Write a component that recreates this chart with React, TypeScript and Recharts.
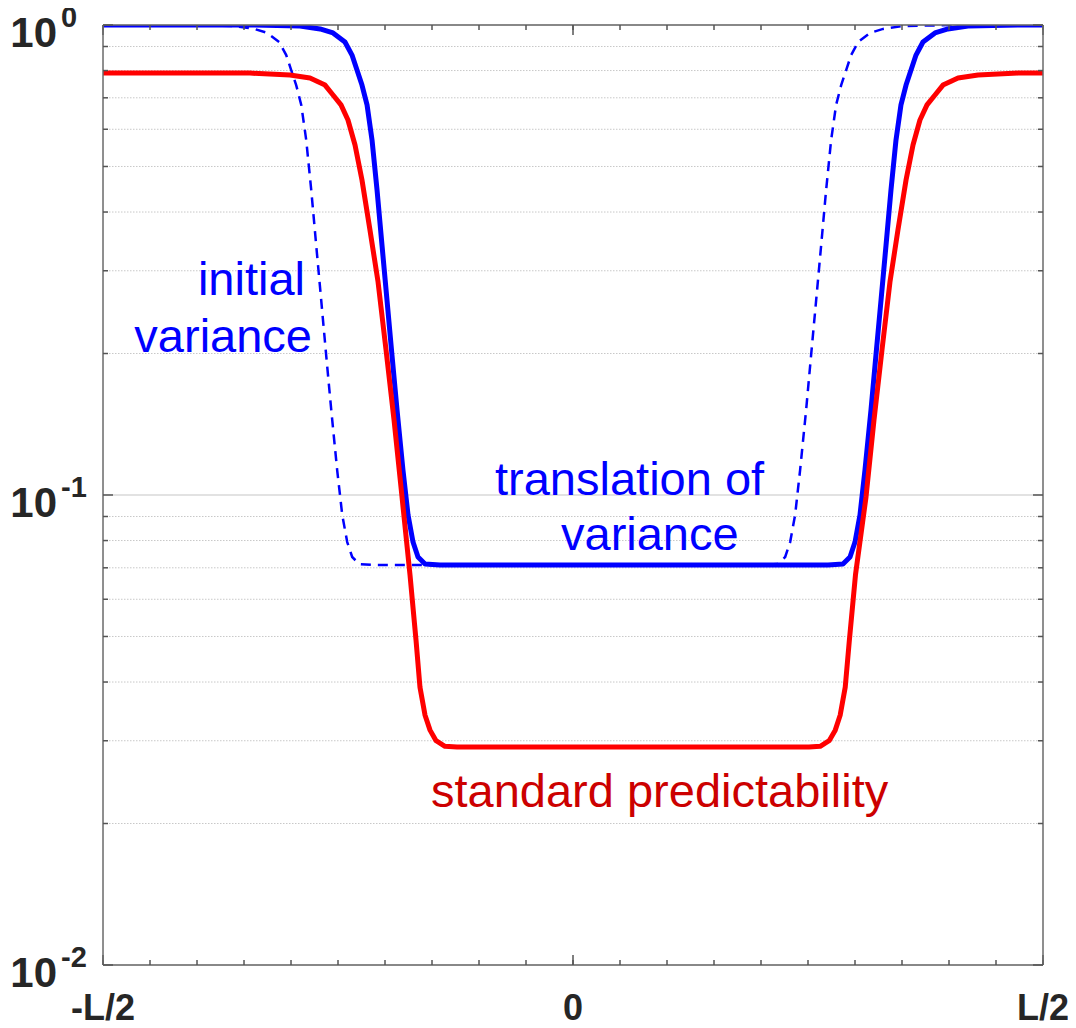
import React from 'react';
import { LineChart, Line, XAxis, YAxis, CartesianGrid, Customized } from 'recharts';

// ---- axis ticks / labels ----
const xMinorTicks = [-0.5, -0.45, -0.4, -0.35, -0.3, -0.25, -0.2, -0.15, -0.1, -0.05, 0, 0.05, 0.1, 0.15, 0.2, 0.25, 0.3, 0.35, 0.4, 0.45, 0.5];
const xMajorTicks = [-0.5, 0, 0.5];
const xTickLabels = ['-L/2', '0', 'L/2'];
const yMajorTicks = [0.01, 0.1, 1];
const yTickExponents = ['-2', '-1', '0'];
const yMinorTicks = [0.02, 0.03, 0.04, 0.05, 0.06, 0.07, 0.08, 0.09, 0.2, 0.3, 0.4, 0.5, 0.6, 0.7, 0.8, 0.9];

// ---- series: translation of variance (blue solid) ----
const translationX = [-0.5, -0.3436, -0.2904, -0.2691, -0.2553, -0.2426, -0.2351, -0.2298, -0.2245, -0.2191, -0.2138, -0.2085, -0.2032, -0.1979, -0.1926, -0.1872, -0.1809, -0.1755, -0.1702, -0.1649, -0.1574, -0.1415, 0.2713, 0.2872, 0.2947, 0.3, 0.3053, 0.3106, 0.317, 0.3223, 0.3277, 0.333, 0.3383, 0.3436, 0.3489, 0.3543, 0.3596, 0.3649, 0.3723, 0.3851, 0.3989, 0.4202, 0.4734, 0.5];
const translationV = [1, 1, 0.995, 0.981, 0.962, 0.92, 0.863, 0.802, 0.745, 0.676, 0.569, 0.446, 0.34, 0.26, 0.1985, 0.1517, 0.113, 0.0907, 0.0794, 0.0738, 0.0713, 0.071, 0.071, 0.0713, 0.0738, 0.0794, 0.0907, 0.113, 0.1517, 0.1985, 0.26, 0.34, 0.446, 0.569, 0.676, 0.745, 0.802, 0.863, 0.92, 0.962, 0.981, 0.995, 1, 1];

// ---- series: initial variance (blue dashed) ----
const initialX = [-0.5, -0.4136, -0.3604, -0.3391, -0.3253, -0.3126, -0.3051, -0.2998, -0.2945, -0.2891, -0.2838, -0.2785, -0.2732, -0.2679, -0.2626, -0.2572, -0.2509, -0.2455, -0.2402, -0.2349, -0.2274, -0.2115, 0.2023, 0.2182, 0.2257, 0.231, 0.2363, 0.2416, 0.248, 0.2533, 0.2587, 0.264, 0.2693, 0.2746, 0.2799, 0.2853, 0.2906, 0.2959, 0.3033, 0.3161, 0.3299, 0.3512, 0.4044, 0.5];
const initialV = [1, 1, 0.995, 0.981, 0.962, 0.92, 0.863, 0.802, 0.745, 0.676, 0.569, 0.446, 0.34, 0.26, 0.1985, 0.1517, 0.113, 0.0907, 0.0794, 0.0738, 0.0713, 0.071, 0.071, 0.0713, 0.0738, 0.0794, 0.0907, 0.113, 0.1517, 0.1985, 0.26, 0.34, 0.446, 0.569, 0.676, 0.745, 0.802, 0.863, 0.92, 0.962, 0.981, 0.995, 1, 1];

// ---- series: standard predictability (red solid) ----
const standardX = [-0.5, -0.3436, -0.3011, -0.2798, -0.2638, -0.2553, -0.2468, -0.2394, -0.2319, -0.2245, -0.216, -0.2074, -0.1989, -0.1904, -0.1819, -0.1734, -0.167, -0.1628, -0.1574, -0.1521, -0.1457, -0.1362, -0.1234, 0.251, 0.263, 0.2725, 0.279, 0.2842, 0.2896, 0.294, 0.3005, 0.3117, 0.3202, 0.3287, 0.3372, 0.3457, 0.3543, 0.3617, 0.3691, 0.3766, 0.3851, 0.3936, 0.4096, 0.4309, 0.4734, 0.5];
const standardV = [0.79, 0.79, 0.7825, 0.7712, 0.745, 0.7098, 0.676, 0.628, 0.5555, 0.468, 0.3663, 0.284, 0.2034, 0.1444, 0.099, 0.0676, 0.0491, 0.039, 0.034, 0.0316, 0.03, 0.0292, 0.0291, 0.0291, 0.0292, 0.03, 0.0316, 0.034, 0.039, 0.0491, 0.0676, 0.099, 0.1444, 0.2034, 0.284, 0.3663, 0.468, 0.5555, 0.628, 0.676, 0.7098, 0.745, 0.7712, 0.7825, 0.79, 0.79];

const toRows = (xs: number[], vs: number[]) => xs.map((x, i) => ({ x, v: vs[i] }));
const translationData = toRows(translationX, translationV);
const initialData = toRows(initialX, initialV);
const standardData = toRows(standardX, standardV);

const FONT = '"Liberation Sans", Arial, Helvetica, sans-serif';
const AXIS = { stroke: '#6a6a6a', strokeWidth: 1.5 };
const TICK = { stroke: '#555555', strokeWidth: 1.5 };
const NoTick = () => <g />;

const XLabelTick = (props: any) => {
  const { x, y, payload } = props;
  const i = xMajorTicks.indexOf(payload.value);
  return (
    <text x={x} y={y + 55} textAnchor="middle" fontFamily={FONT} fontWeight="bold" fontSize={36} fill="#262626">
      {xTickLabels[i]}
    </text>
  );
};

const YLabelTick = (props: any) => {
  const { y, payload } = props;
  const i = yMajorTicks.indexOf(payload.value);
  return (
    <g fontFamily={FONT} fontWeight="bold" fill="#262626">
      <text x={49} y={y + 22} textAnchor="end" fontSize={42}>10</text>
      <text x={53} y={y + 2} fontSize={29}>{yTickExponents[i]}</text>
    </g>
  );
};

const Annotations = () => (
  <g fontFamily={FONT} fontSize={47}>
    <text x={297} y={295} textAnchor="end" fill="#0000ff">initial</text>
    <text x={304} y={352} textAnchor="end" fill="#0000ff">variance</text>
    <text x={487} y={495} fill="#0000ff">translation of</text>
    <text x={553} y={550} fill="#0000ff">variance</text>
    <text x={423} y={807} fill="#cc0000">standard predictability</text>
  </g>
);

const xCommon = { type: 'number' as const, dataKey: 'x', domain: [-0.5, 0.5], allowDataOverflow: true, interval: 0 as const, height: 0.01 };
const yCommon = { type: 'number' as const, scale: 'log' as const, domain: [0.01, 1], allowDataOverflow: true, interval: 0 as const, width: 0.01 };

export default function App() {
  return (
    <div style={{ marginTop: -8, width: 1068, height: 1028 }}>
      <LineChart width={1068} height={1028} margin={{ top: 25, right: 33, bottom: 63, left: 95 }}>
        <CartesianGrid xAxisId="x" yAxisId="y" vertical={false} stroke="#c8c8c8" strokeDasharray="1.5 1.5" />
        <CartesianGrid xAxisId="x" yAxisId="ymaj" vertical={false} stroke="#e2e2e2" strokeWidth={2} />

        <XAxis xAxisId="x" {...xCommon} orientation="bottom" mirror ticks={xMinorTicks} tickSize={5} tick={NoTick} axisLine={AXIS} tickLine={TICK} />
        <XAxis xAxisId="xmaj" {...xCommon} orientation="bottom" mirror ticks={xMajorTicks} tickSize={10} tick={NoTick} axisLine={false} tickLine={TICK} />
        <XAxis xAxisId="xlab" {...xCommon} orientation="bottom" ticks={xMajorTicks} tickSize={0} tickMargin={0} tick={XLabelTick} axisLine={false} tickLine={false} />
        <XAxis xAxisId="xtop" {...xCommon} orientation="top" mirror ticks={xMinorTicks} tickSize={5} tick={NoTick} axisLine={AXIS} tickLine={TICK} />
        <XAxis xAxisId="xtopmaj" {...xCommon} orientation="top" mirror ticks={xMajorTicks} tickSize={10} tick={NoTick} axisLine={false} tickLine={TICK} />

        <YAxis yAxisId="y" {...yCommon} orientation="left" mirror ticks={yMinorTicks} tickSize={5} tick={NoTick} axisLine={AXIS} tickLine={TICK} />
        <YAxis yAxisId="ymaj" {...yCommon} orientation="left" mirror ticks={yMajorTicks} tickSize={10} tick={NoTick} axisLine={false} tickLine={TICK} />
        <YAxis yAxisId="ylab" {...yCommon} orientation="left" ticks={yMajorTicks} tickSize={0} tickMargin={0} tick={YLabelTick} axisLine={false} tickLine={false} />
        <YAxis yAxisId="yr" {...yCommon} orientation="right" mirror ticks={yMinorTicks} tickSize={5} tick={NoTick} axisLine={AXIS} tickLine={TICK} />
        <YAxis yAxisId="yrmaj" {...yCommon} orientation="right" mirror ticks={yMajorTicks} tickSize={10} tick={NoTick} axisLine={false} tickLine={TICK} />

        <Line xAxisId="x" yAxisId="y" data={initialData} dataKey="v" type="linear" stroke="#0000ff" strokeWidth={2.5} strokeDasharray="10 7" dot={false} activeDot={false} isAnimationActive={false} />
        <Line xAxisId="x" yAxisId="y" data={translationData} dataKey="v" type="linear" stroke="#0000ff" strokeWidth={5} strokeLinejoin="round" dot={false} activeDot={false} isAnimationActive={false} />
        <Line xAxisId="x" yAxisId="y" data={standardData} dataKey="v" type="linear" stroke="#ff0000" strokeWidth={5} strokeLinejoin="round" dot={false} activeDot={false} isAnimationActive={false} />

        <Customized component={Annotations} />
      </LineChart>
    </div>
  );
}
